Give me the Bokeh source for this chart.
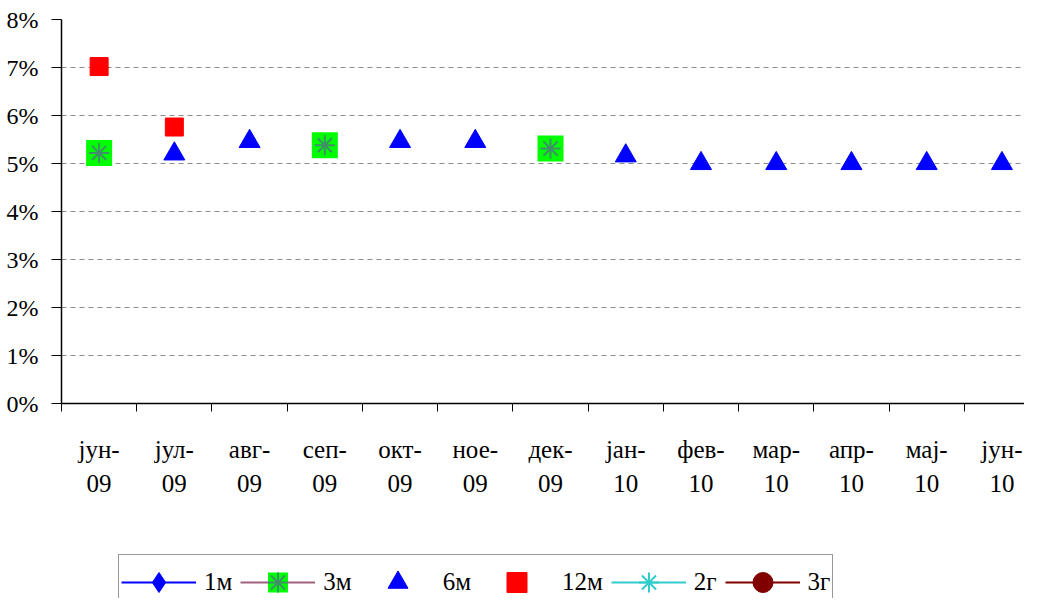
import numpy as np
from bokeh.plotting import figure
from bokeh.layouts import column
from bokeh.models import (Range1d, FixedTicker, PrintfTickFormatter, Grid, Legend,
                          LegendItem, ColumnDataSource)
from bokeh.embed import file_html
from bokeh.resources import INLINE

categories = ["јун-09", "јул-09", "авг-09", "сеп-09", "окт-09", "ное-09", "дек-09",
              "јан-10", "фев-10", "мар-10", "апр-10", "мај-10", "јун-10"]
tick_labels = ["јун-\n09", "јул-\n09", "авг-\n09", "сеп-\n09", "окт-\n09", "ное-\n09", "дек-\n09",
               "јан-\n10", "фев-\n10", "мар-\n10", "апр-\n10", "мај-\n10", "јун-\n10"]
series_names = ["1м", "3м", "6м", "12м", "2г", "3г"]
nan = float("nan")
s_1m = [nan] * 13
s_3m = [5.22, nan, nan, 5.38, nan, nan, 5.31, nan, nan, nan, nan, nan, nan]
s_6m = [nan, 5.2, 5.46, nan, 5.46, 5.46, nan, 5.16, 5.0, 5.0, 5.0, 5.0, 5.0]
s_12m = [7.02, 5.76, nan, nan, nan, nan, nan, nan, nan, nan, nan, nan, nan]
s_2g = [nan] * 13
s_3g = [nan] * 13
y_ticks = [0, 1, 2, 3, 4, 5, 6, 7, 8]

FONT = "Liberation Serif"

x = np.arange(len(categories)) + 0.5
src = ColumnDataSource(dict(x=x, m1=s_1m, m3=s_3m, m6=s_6m, m12=s_12m, g2=s_2g, g3=s_3g))

H1 = 512
p = figure(width=1024, height=H1, output_backend="svg", toolbar_location=None,
           x_range=Range1d(0, 12.80), y_range=Range1d(0, 8),
           min_border_left=61, min_border_top=19, min_border_right=0, min_border_bottom=H1 - 403)
p.outline_line_color = None
p.background_fill_color = "white"

xa = p.xaxis[0]
xa.ticker = FixedTicker(ticks=list(x), minor_ticks=list(range(len(categories) + 1)))
xa.major_label_overrides = {float(v): lab for v, lab in zip(x, tick_labels)}
xa.major_tick_out = 0
xa.major_tick_in = 0
xa.minor_tick_out = 8
xa.minor_tick_in = 0
xa.minor_tick_line_color = "black"
xa.axis_line_color = "black"
xa.axis_line_width = 1.5
xa.major_label_text_font = FONT
xa.major_label_text_font_size = "25px"
xa.major_label_text_color = "black"
xa.major_label_text_line_height = 1.28
xa.major_label_standoff = 24

ya = p.yaxis[0]
ya.ticker = FixedTicker(ticks=y_ticks)
ya.formatter = PrintfTickFormatter(format="%d%%")
ya.major_tick_out = 10
ya.major_tick_in = 0
ya.minor_tick_line_color = None
ya.axis_line_color = "black"
ya.axis_line_width = 1.5
ya.major_label_text_font = FONT
ya.major_label_text_font_size = "24px"
ya.major_label_text_color = "black"
ya.major_label_standoff = 13

p.xgrid.grid_line_color = None
p.ygrid.ticker = FixedTicker(ticks=y_ticks[1:-1])
p.ygrid.grid_line_color = "#8c8c8c"
p.ygrid.grid_line_dash = "5 4"
p.ygrid.grid_line_width = 1
p.add_layout(Grid(dimension=1, ticker=FixedTicker(ticks=[y_ticks[-1]]),
                  grid_line_color="#8c8c8c", grid_line_width=1.5))


def draw(fig, s, cols, with_3m_line):
    """Draw all series on fig from source s; returns renderer lists per series."""
    out = {}
    out["1м"] = [fig.line("x", cols[0], source=s, line_color="#0000ff", line_width=2),
                 fig.scatter("x", cols[0], source=s, marker="diamond", fill_color="#0000ff",
                             line_color="#0000ff", size=14)]
    r = []
    if with_3m_line:
        r.append(fig.line("x", cols[1], source=s, line_color="#a0607f", line_width=2))
    r.append(fig.scatter("x", cols[1], source=s, marker="square", fill_color="#00ff00",
                         line_color=None, size=26))
    r.append(fig.scatter("x", cols[1], source=s, marker="asterisk", line_color="#3f8f6a",
                         line_width=2, size=20))
    out["3м"] = r
    out["6м"] = [fig.scatter("x", cols[2], source=s, marker="triangle", fill_color="#0000ff",
                             line_color="#0000ff", size=21)]
    out["12м"] = [fig.scatter("x", cols[3], source=s, marker="square", fill_color="#ff0000",
                              line_color="#ff0000", size=18)]
    out["2г"] = [fig.line("x", cols[4], source=s, line_color="#33cccc", line_width=2),
                 fig.scatter("x", cols[4], source=s, marker="asterisk", line_color="#33cccc",
                             line_width=2, size=14)]
    out["3г"] = [fig.line("x", cols[5], source=s, line_color="#800000", line_width=2),
                 fig.scatter("x", cols[5], source=s, marker="circle", fill_color="#800000",
                             line_color="#800000", size=14)]
    return out


draw(p, src, ["m1", "m3", "m6", "m12", "g2", "g3"], False)

# legend strip below the chart (its renderers hold a single NaN row: nothing is drawn)
H2 = 598 - H1
lf = figure(width=1024, height=H2, output_backend="svg", toolbar_location=None,
            x_range=Range1d(0, 1), y_range=Range1d(0, 1),
            x_axis_location=None, y_axis_location=None,
            min_border_left=0, min_border_right=0, min_border_top=0, min_border_bottom=0)
lf.outline_line_color = None
lf.xgrid.grid_line_color = None
lf.ygrid.grid_line_color = None
blank = ColumnDataSource(dict(x=[nan], a=[nan], b=[nan], c=[nan], d=[nan], e=[nan], f=[nan]))
lr = draw(lf, blank, ["a", "b", "c", "d", "e", "f"], True)

legend = Legend(items=[LegendItem(label=n, renderers=lr[n]) for n in series_names],
                orientation="horizontal", location=(57, -12))
legend.glyph_width = 75
legend.glyph_height = 50
legend.label_standoff = 8
legend.spacing = 8
legend.padding = 2
legend.margin = 0
legend.label_text_font = FONT
legend.label_text_font_size = "25px"
legend.label_text_color = "black"
legend.border_line_color = "#333333"
legend.border_line_width = 1
legend.background_fill_color = "white"
legend.background_fill_alpha = 1
lf.add_layout(legend)

open("out.html", "w").write(file_html(column(p, lf, spacing=0), INLINE))
